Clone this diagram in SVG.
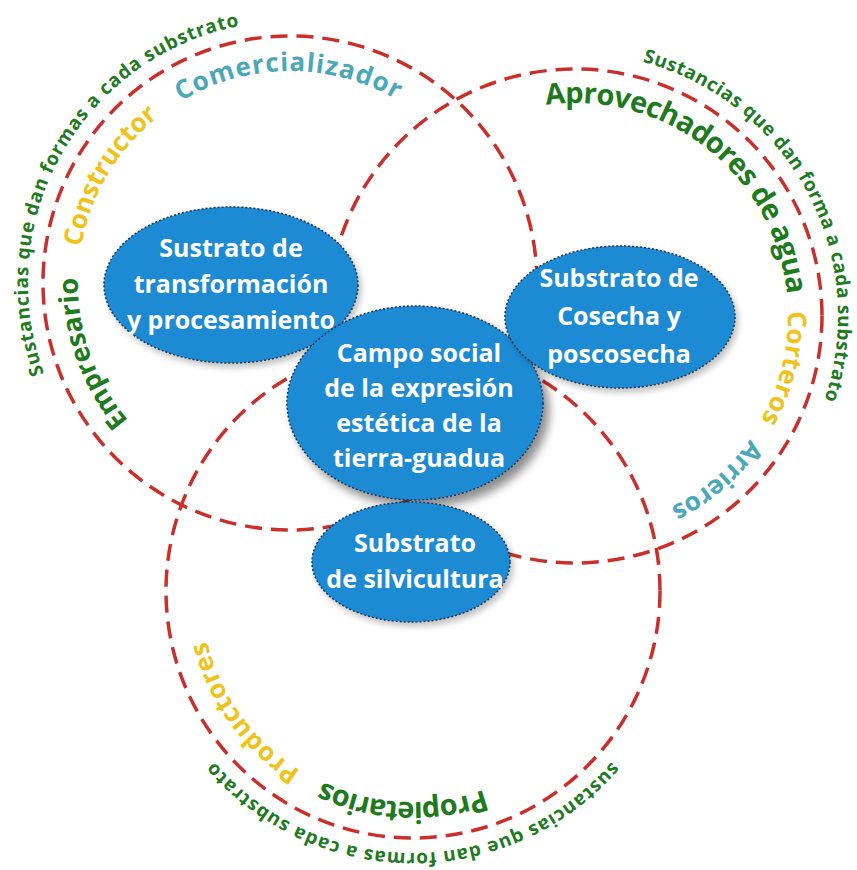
<svg xmlns="http://www.w3.org/2000/svg" xmlns:xlink="http://www.w3.org/1999/xlink" width="857" height="870" viewBox="0 0 857 870">
<style>
.ring{fill:none;stroke:#c9302c;stroke-width:3.5;stroke-dasharray:17 9}
.node{fill:#1b8bd4;stroke:#1d3550;stroke-width:1.5;stroke-dasharray:2 2}
.nt{font-family:"Open Sans","Noto Sans",sans-serif;font-weight:700;font-size:25px;fill:#ffffff;text-anchor:middle}
.cl{font-family:"Open Sans","Noto Sans",sans-serif;text-anchor:middle;font-weight:700}
.outer{font-size:19px;fill:#217a1f}
.role{font-size:26px}
.big{font-size:29px;fill:#1e7a1c}
.teal{fill:#4aa8b8}
.yel{fill:#efc31a}
</style>
<defs>
<filter id="sh" x="-20%" y="-20%" width="150%" height="150%">
<feGaussianBlur in="SourceAlpha" stdDeviation="5"/>
<feOffset dx="6" dy="7" result="b"/>
<feComponentTransfer><feFuncA type="linear" slope="0.45"/></feComponentTransfer>
<feMerge><feMergeNode/><feMergeNode in="SourceGraphic"/></feMerge>
</filter>
<filter id="sh2" x="-20%" y="-20%" width="150%" height="150%">
<feGaussianBlur in="SourceAlpha" stdDeviation="3"/>
<feOffset dx="3" dy="4" result="b"/>
<feComponentTransfer><feFuncA type="linear" slope="0.25"/></feComponentTransfer>
<feMerge><feMergeNode/><feMergeNode in="SourceGraphic"/></feMerge>
</filter>
<path id="p1" d="M91.4,453.9 A262,262 0 0 1 332.3,24.4"/>
<path id="p2" d="M90.2,212.2 A212,212 0 0 1 488.6,208.8"/>
<path id="p3" d="M126.0,417.3 A212,212 0 0 1 329.4,74.7"/>
<path id="p4" d="M288.2,495.0 A212,212 0 0 1 155.1,119.4"/>
<path id="p5" d="M537.0,55.8 A263,263 0 0 1 771.4,491.0"/>
<path id="p6" d="M462.7,135.0 A213,213 0 0 1 777.4,382.5"/>
<path id="p7" d="M694.1,139.4 A213,213 0 0 1 597.3,527.8"/>
<path id="p8" d="M775.2,240.4 A214,214 0 0 1 470.3,502.6"/>
<path id="p9" d="M607.5,672.8 A211,211 0 0 1 211.4,653.4"/>
<path id="p10" d="M470.7,795.0 A212,212 0 0 1 237.7,471.8"/>
<path id="p11" d="M659.2,680.6 A262,262 0 0 1 166.8,680.6"/>
</defs>
<rect width="857" height="870" fill="#ffffff"/>
<g id="connectors">
<circle class="ring" cx="290" cy="283" r="247"/>
<circle class="ring" cx="575" cy="316" r="247"/>
<circle class="ring" cx="413" cy="591" r="247"/>
</g>
<g id="labels">
<text class="cl outer"><textPath xlink:href="#p1" href="#p1" startOffset="50%" textLength="453" lengthAdjust="spacing">Sustancias que dan formas a cada substrato</textPath></text>
<text class="cl role teal"><textPath xlink:href="#p2" href="#p2" startOffset="50%" textLength="226" lengthAdjust="spacing">Comercializador</textPath></text>
<text class="cl role yel"><textPath xlink:href="#p3" href="#p3" startOffset="50%" textLength="155" lengthAdjust="spacing">Constructor</textPath></text>
<text class="cl big" style="font-size:27px"><textPath xlink:href="#p4" href="#p4" startOffset="50%" textLength="155" lengthAdjust="spacing">Empresario</textPath></text>
<text class="cl outer"><textPath xlink:href="#p5" href="#p5" startOffset="50%" textLength="430" lengthAdjust="spacing">Sustancias que dan forma a cada substrato</textPath></text>
<text class="cl big"><textPath xlink:href="#p6" href="#p6" startOffset="50%" textLength="342" lengthAdjust="spacing">Aprovechadores de agua</textPath></text>
<text class="cl role yel"><textPath xlink:href="#p7" href="#p7" startOffset="50%" textLength="114" lengthAdjust="spacing">Corteros</textPath></text>
<text class="cl role teal"><textPath xlink:href="#p8" href="#p8" startOffset="50%" textLength="106" lengthAdjust="spacing">Arrieros</textPath></text>
<text class="cl big"><textPath xlink:href="#p9" href="#p9" startOffset="50%" textLength="166" lengthAdjust="spacing">Propietarios</textPath></text>
<text class="cl role yel"><textPath xlink:href="#p10" href="#p10" startOffset="50%" textLength="164" lengthAdjust="spacing">Productores</textPath></text>
<text class="cl outer"><textPath xlink:href="#p11" href="#p11" startOffset="50%" textLength="451" lengthAdjust="spacing">sustancias que dan formas a cada substrato</textPath></text>
</g>
<g id="node-transformacion">
<ellipse class="node" cx="231" cy="285" rx="127" ry="78" filter="url(#sh2)"/>
<text class="nt" x="231" y="257">Sustrato de</text>
<text class="nt" x="231" y="293">transformación</text>
<text class="nt" x="231" y="329">y procesamiento</text>
</g>
<g id="node-campo">
<ellipse class="node" cx="415" cy="403" rx="128" ry="97" filter="url(#sh)"/>
<text class="nt" x="419" y="362">Campo social</text>
<text class="nt" x="419" y="397">de la expresión</text>
<text class="nt" x="419" y="432">estética de la</text>
<text class="nt" x="419" y="467">tierra-guadua</text>
</g>
<g id="node-cosecha">
<ellipse class="node" cx="620" cy="317" rx="115" ry="71" filter="url(#sh2)"/>
<text class="nt" x="619" y="287">Substrato de</text>
<text class="nt" x="619" y="325">Cosecha y</text>
<text class="nt" x="619" y="363">poscosecha</text>
</g>
<g id="node-silvicultura">
<ellipse class="node" cx="411" cy="562" rx="99" ry="60" filter="url(#sh2)"/>
<text class="nt" x="415" y="552">Substrato</text>
<text class="nt" x="415" y="588">de silvicultura</text>
</g>
</svg>
